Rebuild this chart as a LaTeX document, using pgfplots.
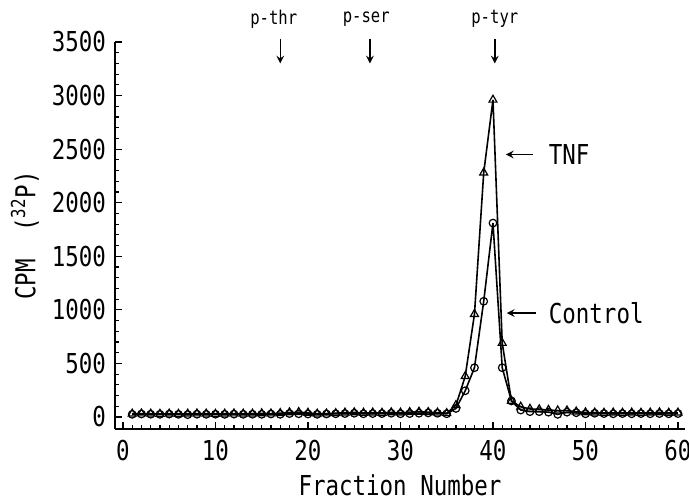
\documentclass[border=0pt]{standalone}
\usepackage{fontspec}
\setmainfont{DejaVu Sans Mono}[FakeStretch=0.82]
\usepackage{pgfplots}
\pgfplotsset{compat=1.18}
\usepackage{pgfplotstable}
\pgfplotstableread{
x tnf ctl
1 30 25
2 32 28
3 30 26
4 28 25
5 30 27
6 28 25
7 30 22
8 32 26
9 30 25
10 28 26
11 30 25
12 32 27
13 30 25
14 30 26
15 33 25
16 32 28
17 36 25
18 42 32
19 45 30
20 38 28
21 30 25
22 32 28
23 35 30
24 40 32
25 42 35
26 38 30
27 40 32
28 38 32
29 42 35
30 40 30
31 45 32
32 48 35
33 45 38
34 40 35
35 35 30
36 110 80
37 380 245
38 960 460
39 2280 1080
40 2960 1810
41 690 460
42 150 150
43 95 65
44 75 50
45 70 50
46 65 45
47 60 25
48 60 45
49 50 40
50 42 30
51 40 35
52 38 32
53 40 30
54 38 32
55 40 30
56 38 32
57 40 30
58 42 32
59 38 30
60 40 32
}\data
\begin{document}
\begin{tikzpicture}
\useasboundingbox (-57.5pt,-36.5pt) rectangle (287pt,214.5pt);
\begin{axis}[
  scale only axis,
  width=285pt, height=193.5pt,
  xmin=-0.86, xmax=60.76,
  ymin=-112, ymax=3500,
  axis x line*=bottom, axis y line*=left,
  axis line style={-, line width=0.8pt},
  tick align=inside,
  tick style={black, line width=0.6pt},
  major tick length=3.5pt, minor tick length=2pt,
  xtick={0,10,...,60}, minor x tick num=9,
  ytick={0,500,...,3500}, minor y tick num=4,
  /pgf/number format/assume math mode=true,
  /pgf/number format/1000 sep={},
  ticklabel style={font=\fontsize{13.7}{16}\selectfont},
  xticklabel style={yshift=-2pt},
  yticklabel style={xshift=-1pt},
  xlabel={Fraction Number},
  ylabel={CPM\ \ (\textsuperscript{32}P)},
  label style={font=\fontsize{13.7}{16}\selectfont},
  xlabel style={yshift=0pt},
  ylabel style={yshift=-0.5pt},
  clip=false,
]
\addplot[black, line width=0.8pt, mark=triangle, mark size=2.3pt, mark options={solid, line width=0.6pt, fill=white}] table[x=x, y=tnf] {\data};
\addplot[black, line width=0.8pt, mark=o, mark size=1.9pt, mark options={solid, line width=0.6pt, fill=white}] table[x=x, y=ctl] {\data};
\node[font=\fontsize{9.5}{10}\selectfont] at (axis cs:16.3,3714) {p-thr};
\node[font=\fontsize{9.5}{10}\selectfont] at (axis cs:26.3,3714) {p-ser};
\node[font=\fontsize{9.5}{10}\selectfont] at (axis cs:40.2,3714) {p-tyr};
\draw[-stealth, line width=0.7pt] (axis cs:17,3530) -- (axis cs:17,3300);
\draw[-stealth, line width=0.7pt] (axis cs:26.7,3530) -- (axis cs:26.7,3300);
\draw[-stealth, line width=0.7pt] (axis cs:40.2,3530) -- (axis cs:40.2,3300);
\draw[-stealth, line width=0.7pt] (axis cs:44.3,2450) -- (axis cs:41.4,2450);
\draw[-stealth, line width=0.7pt] (axis cs:44.7,970) -- (axis cs:41.5,970);
\node[anchor=west, font=\fontsize{13.7}{16}\selectfont, inner sep=0pt] at (axis cs:46.0,2450) {TNF};
\node[anchor=west, font=\fontsize{13.7}{16}\selectfont, inner sep=0pt] at (axis cs:46.0,970) {Control};
\end{axis}
\end{tikzpicture}
\end{document}
